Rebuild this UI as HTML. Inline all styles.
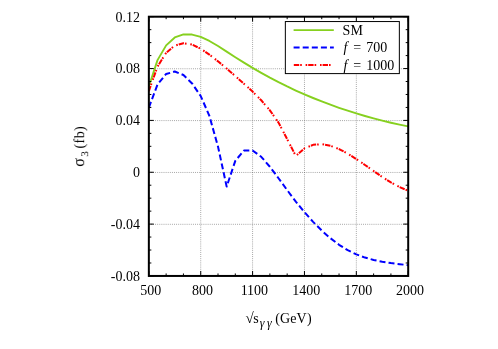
<!DOCTYPE html>
<html><head><meta charset="utf-8"><title>plot</title>
<style>html,body{margin:0;padding:0;background:#fff;}body{width:498px;height:349px;overflow:hidden;font-family:"Liberation Serif",serif;}svg{display:block;}</style>
</head><body>
<svg width="498" height="349" viewBox="0 0 498 349">
<rect x="0" y="0" width="498" height="349" fill="#fff"/>
<g stroke="#000" stroke-width="0.5" stroke-dasharray="0.9 1.2" fill="none" opacity="0.78">
<path d="M200.72,275.95 V16.70"/>
<path d="M252.59,275.95 V16.70"/>
<path d="M304.46,275.95 V16.70"/>
<path d="M356.33,275.95 V16.70"/>
<path d="M148.85,68.75 H408.20"/>
<path d="M148.85,120.60 H408.20"/>
<path d="M148.85,172.45 H408.20"/>
<path d="M148.85,224.30 H408.20"/>
</g>
<path d="M148.85,86.57 L157.50,60.12 L166.14,45.39 L174.78,37.44 L183.43,34.45 L192.07,34.57 L200.72,36.93 L209.37,40.95 L218.01,46.04 L226.66,51.62 L235.30,57.19 L243.94,62.61 L252.59,67.85 L261.24,72.87 L269.88,77.65 L278.52,82.18 L287.17,86.47 L295.82,90.52 L304.46,94.37 L313.11,98.00 L321.75,101.44 L330.39,104.69 L339.04,107.77 L347.69,110.68 L356.33,113.43 L364.98,116.02 L373.62,118.43 L382.27,120.68 L390.91,122.76 L399.56,124.66 L408.20,126.40" fill="none" stroke="#86d01f" stroke-width="1.9" stroke-linejoin="round"/>
<path d="M148.85,107.58 L157.50,84.54 L166.14,73.97 L174.78,71.51 L183.43,75.04 L192.07,83.41 L200.72,96.05 L209.37,115.83 L218.01,146.60 L226.66,186.60 L235.30,160.83 L243.94,150.53 L252.59,150.44 L261.24,156.81 L269.88,166.75 L278.52,178.23 L287.17,190.14 L295.82,201.57 L304.46,212.17 L313.11,221.86 L321.75,230.57 L330.39,238.24 L339.04,244.79 L347.69,250.16 L356.33,254.36 L364.98,257.57 L373.62,259.97 L382.27,261.74 L390.91,263.08 L399.56,264.16 L408.20,265.17" fill="none" stroke="#0000ff" stroke-width="2" stroke-dasharray="6 3.1" stroke-linejoin="round"/>
<path d="M148.85,91.05 L157.50,66.66 L166.14,52.75 L174.78,45.57 L183.43,43.18 L192.07,44.56 L200.72,48.71 L209.37,54.61 L218.01,61.34 L226.66,68.52 L235.30,76.01 L243.94,83.70 L252.59,91.61 L261.24,100.27 L269.88,110.33 L278.52,122.60 L287.17,139.18 L295.82,156.00 L304.46,148.39 L313.11,144.86 L321.75,144.14 L330.39,145.71 L339.04,149.04 L347.69,153.64 L356.33,159.06 L364.98,164.96 L373.62,171.04 L382.27,176.97 L390.91,182.44 L399.56,187.13 L408.20,190.73" fill="none" stroke="#ff0000" stroke-width="2" stroke-dasharray="5.4 1.0 1.6 3.8 1.6 1.0" stroke-linejoin="round"/>
<g stroke="#000" stroke-width="1" fill="none">
<path d="M148.85,275.95 v-4.9 M148.85,16.70 v4.9"/>
<path d="M166.14,275.95 v-2.5 M166.14,16.70 v2.5"/>
<path d="M183.43,275.95 v-2.5 M183.43,16.70 v2.5"/>
<path d="M200.72,275.95 v-4.9 M200.72,16.70 v4.9"/>
<path d="M218.01,275.95 v-2.5 M218.01,16.70 v2.5"/>
<path d="M235.30,275.95 v-2.5 M235.30,16.70 v2.5"/>
<path d="M252.59,275.95 v-4.9 M252.59,16.70 v4.9"/>
<path d="M269.88,275.95 v-2.5 M269.88,16.70 v2.5"/>
<path d="M287.17,275.95 v-2.5 M287.17,16.70 v2.5"/>
<path d="M304.46,275.95 v-4.9 M304.46,16.70 v4.9"/>
<path d="M321.75,275.95 v-2.5 M321.75,16.70 v2.5"/>
<path d="M339.04,275.95 v-2.5 M339.04,16.70 v2.5"/>
<path d="M356.33,275.95 v-4.9 M356.33,16.70 v4.9"/>
<path d="M373.62,275.95 v-2.5 M373.62,16.70 v2.5"/>
<path d="M390.91,275.95 v-2.5 M390.91,16.70 v2.5"/>
<path d="M408.20,275.95 v-4.9 M408.20,16.70 v4.9"/>
<path d="M148.85,275.95 h4.9 M408.20,275.95 h-4.9"/>
<path d="M148.85,262.99 h2.5 M408.20,262.99 h-2.5"/>
<path d="M148.85,250.02 h2.5 M408.20,250.02 h-2.5"/>
<path d="M148.85,237.06 h2.5 M408.20,237.06 h-2.5"/>
<path d="M148.85,224.10 h4.9 M408.20,224.10 h-4.9"/>
<path d="M148.85,211.14 h2.5 M408.20,211.14 h-2.5"/>
<path d="M148.85,198.17 h2.5 M408.20,198.17 h-2.5"/>
<path d="M148.85,185.21 h2.5 M408.20,185.21 h-2.5"/>
<path d="M148.85,172.25 h4.9 M408.20,172.25 h-4.9"/>
<path d="M148.85,159.29 h2.5 M408.20,159.29 h-2.5"/>
<path d="M148.85,146.32 h2.5 M408.20,146.32 h-2.5"/>
<path d="M148.85,133.36 h2.5 M408.20,133.36 h-2.5"/>
<path d="M148.85,120.40 h4.9 M408.20,120.40 h-4.9"/>
<path d="M148.85,107.44 h2.5 M408.20,107.44 h-2.5"/>
<path d="M148.85,94.47 h2.5 M408.20,94.47 h-2.5"/>
<path d="M148.85,81.51 h2.5 M408.20,81.51 h-2.5"/>
<path d="M148.85,68.55 h4.9 M408.20,68.55 h-4.9"/>
<path d="M148.85,55.59 h2.5 M408.20,55.59 h-2.5"/>
<path d="M148.85,42.62 h2.5 M408.20,42.62 h-2.5"/>
<path d="M148.85,29.66 h2.5 M408.20,29.66 h-2.5"/>
<path d="M148.85,16.70 h4.9 M408.20,16.70 h-4.9"/>
</g>
<rect x="148.85" y="16.70" width="259.35" height="259.25" fill="none" stroke="#000" stroke-width="2"/>
<rect x="285.35" y="21.55" width="114.00" height="52.05" fill="#fff" stroke="#000" stroke-width="1"/>
<path d="M293.6,30.1 H333.8" stroke="#86d01f" stroke-width="1.9" fill="none"/>
<path d="M293.6,47.5 H333.8" stroke="#0000ff" stroke-width="2" stroke-dasharray="6 3.1" fill="none"/>
<path d="M293.8,65.0 H333.8" stroke="#ff0000" stroke-width="2" stroke-dasharray="5.4 1.0 1.6 3.8 1.6 1.0" fill="none"/>
<g font-family="'Liberation Serif', serif" font-size="14px" fill="#000" opacity="0.999">
<text x="342.6" y="34.8">SM</text>
<text x="343.5" y="52.2" font-style="italic">f</text>
<text x="353.3" y="52.2">=</text>
<text x="366.3" y="52.2">700</text>
<text x="343.5" y="69.6" font-style="italic">f</text>
<text x="353.3" y="69.6">=</text>
<text x="366.3" y="69.6">1000</text>
<text x="139.9" y="21.50" text-anchor="end">0.12</text>
<text x="139.9" y="73.35" text-anchor="end">0.08</text>
<text x="139.9" y="125.20" text-anchor="end">0.04</text>
<text x="139.9" y="177.05" text-anchor="end">0</text>
<text x="139.9" y="228.90" text-anchor="end">-0.04</text>
<text x="139.9" y="280.75" text-anchor="end">-0.08</text>
<text x="150.65" y="295.3" text-anchor="middle">500</text>
<text x="202.52" y="295.3" text-anchor="middle">800</text>
<text x="254.39" y="295.3" text-anchor="middle">1100</text>
<text x="306.26" y="295.3" text-anchor="middle">1400</text>
<text x="358.13" y="295.3" text-anchor="middle">1700</text>
<text x="410.00" y="295.3" text-anchor="middle">2000</text>
<text x="245.4" y="323" font-size="15px">&#8730;</text>
<text x="253.3" y="323">s</text>
<text x="259.7" y="327.3" font-size="12px" font-style="italic">&#947;</text>
<text x="267.0" y="327.3" font-size="12px" font-style="italic">&#947;</text>
<text x="275.2" y="323" letter-spacing="0.15">(GeV)</text>
<g transform="translate(84.2,0) rotate(-90)">
<text x="-166.8" y="0" font-size="16px">&#963;</text>
<text x="-156.8" y="3.8" font-size="11.2px">3</text>
<text x="-148.4" y="0" letter-spacing="0.35">(fb)</text>
</g>
</g>
</svg>
</body></html>
